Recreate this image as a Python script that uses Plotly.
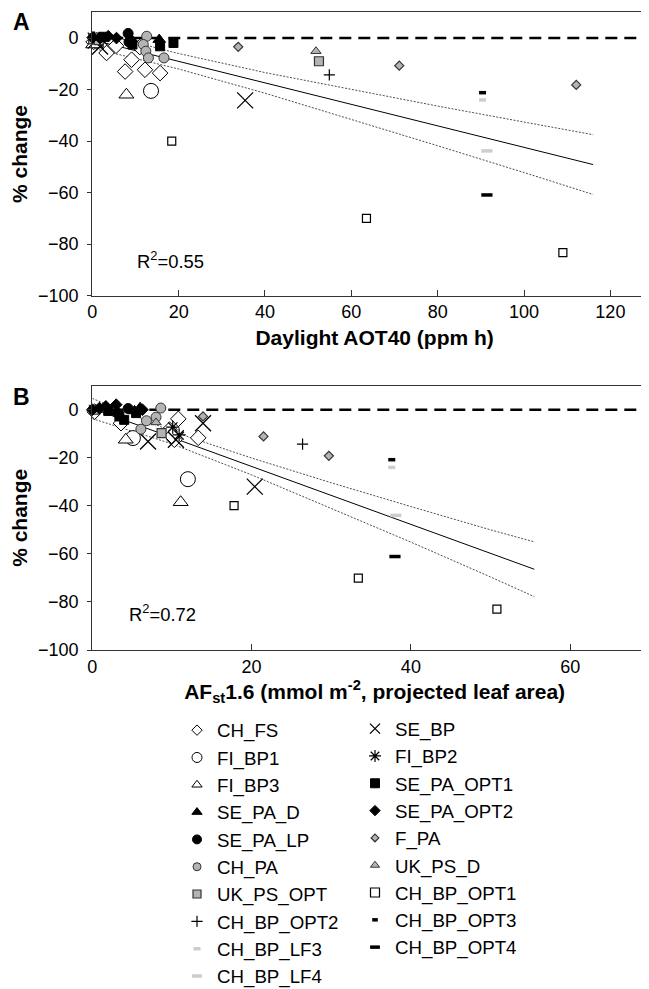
import plotly.graph_objects as go

# % change vs daylight AOT40 (panel A) and vs AFst1.6 (panel B), (x, y) pairs
a_ch_fs = [(0.3, -1.5), (3.3, -5.8), (5.5, -3.0), (7.6, -13.0), (9.1, -8.4), (12.2, -12.3), (15.7, -13.6), (11.0, -3.5)]
a_fi_bp1 = [(1.0, -1.0), (13.6, -20.5)]
a_fi_bp3 = [(0.2, -2.5), (7.9, -22.0)]
a_se_pa_d = [(9.0, -0.5), (15.5, -0.6)]
a_se_pa_lp = [(8.3, 1.8), (8.5, -1.5)]
a_ch_pa = [(12.6, 0.7), (11.8, -2.5), (12.4, -5.1), (13.0, -7.7), (16.6, -7.7)]
a_uk_ps_opt = [(0.2, -0.5), (1.5, -0.8), (52.5, -9.0)]
a_ch_bp_opt2 = [(54.9, -14.3)]
a_ch_bp_lf3 = [(90.4, -24.0)]
a_ch_bp_lf4 = [(91.4, -43.8)]
a_se_bp = [(0.8, -1.0), (1.8, -3.3), (35.4, -24.2)]
a_fi_bp2 = [(0.5, 0.0), (2.5, -1.0)]
a_se_pa_opt1 = [(2.5, 0.5), (9.3, -2.5), (15.7, -3.2), (18.8, -1.9)]
a_se_pa_opt2 = [(0.1, 0.2), (1.8, 0.0), (3.7, 0.7), (5.6, 0.0)]
a_f_pa = [(33.8, -3.4), (71.1, -10.7), (112.1, -18.2)]
a_uk_ps_d = [(0.6, 0.2), (51.8, -5.1)]
a_ch_bp_opt1 = [(18.4, -40.0), (63.5, -70.0), (109.0, -83.3)]
a_ch_bp_opt3 = [(90.4, -21.2)]
a_ch_bp_opt4 = [(91.4, -60.9)]

b_ch_fs = [(0.3, -0.8), (3.6, -5.6), (10.8, -3.8), (9.7, -8.3), (10.3, -12.5), (13.3, -11.7), (10.0, -11.0)]
b_fi_bp1 = [(5.1, -11.8), (12.0, -28.9)]
b_fi_bp3 = [(4.2, -12.5), (11.1, -38.5)]
b_se_pa_d = [(6.0, 0.8), (5.3, -0.5)]
b_se_pa_lp = [(4.5, 0.5), (3.2, -1.5)]
b_ch_pa = [(8.6, 0.7), (8.0, -3.1), (6.8, -4.6), (6.1, -8.1)]
b_uk_ps_opt = [(0.2, 0.0), (8.7, -9.7)]
b_ch_bp_opt2 = [(26.4, -14.3)]
b_ch_bp_lf3 = [(37.6, -24.0)]
b_ch_bp_lf4 = [(38.1, -44.0)]
b_se_bp = [(7.0, -13.2), (10.5, -12.5), (13.9, -5.6), (20.4, -32.0)]
b_fi_bp2 = [(10.1, -7.2), (10.9, -10.5)]
b_se_pa_opt1 = [(2.0, -0.5), (3.4, -2.8), (5.5, -1.4), (4.0, -4.2)]
b_se_pa_opt2 = [(0.0, 0.0), (0.9, 0.7), (1.7, 1.4), (3.0, 2.1), (6.3, 0.0)]
b_f_pa = [(13.9, -2.8), (21.5, -11.1), (29.7, -19.2)]
b_uk_ps_d = [(8.0, -5.3)]
b_ch_bp_opt1 = [(17.8, -39.9), (33.4, -70.1), (50.8, -83.0)]
b_ch_bp_opt3 = [(37.6, -20.8)]
b_ch_bp_opt4 = [(38.0, -61.1)]

# regression line and its confidence band
a_fit_x = [0, 20, 40, 60, 80, 100, 116]
a_fit_y = [-0.7, -9.0, -17.4, -25.7, -34.1, -42.4, -49.1]
a_fit_hi = [2.5, -6.0, -13.4, -19.9, -26.4, -32.6, -37.5]
a_fit_lo = [-3.9, -12.0, -21.4, -31.5, -41.8, -52.2, -60.7]

b_fit_x = [0, 10, 20, 30, 40, 50, 55.5]
b_fit_y = [0.5, -11.6, -23.6, -35.7, -47.7, -59.8, -66.4]
b_fit_hi = [4.7, -9.0, -20.1, -30.4, -40.3, -50.0, -55.0]
b_fit_lo = [-3.7, -14.2, -27.1, -41.0, -55.1, -69.6, -77.8]

GRAY = '#b4b4b4'
LGRAY = '#cdcdcd'
DARK = '#333333'

# name, panel A pts, panel B pts, symbol, size, legend size, fill, line colour, line width, legend column
series = [
    ('CH_FS', a_ch_fs, b_ch_fs, 'diamond', 12, 8, 'white', 'black', 1, 'legend'),
    ('FI_BP1', a_fi_bp1, b_fi_bp1, 'circle', 15, 10, 'white', 'black', 1, 'legend'),
    ('FI_BP3', a_fi_bp3, b_fi_bp3, 'triangle-up', 13, 9, 'white', 'black', 1, 'legend'),
    ('SE_BP', a_se_bp, b_se_bp, 'x-thin', 16, 10, 'black', 'black', 1.3, 'legend2'),
    ('FI_BP2', a_fi_bp2, b_fi_bp2, 'asterisk', 11, 10, 'black', 'black', 1.2, 'legend2'),
    ('CH_PA', a_ch_pa, b_ch_pa, 'circle', 10, 8, GRAY, DARK, 1, 'legend'),
    ('UK_PS_OPT', a_uk_ps_opt, b_uk_ps_opt, 'square', 9, 8, GRAY, DARK, 1.2, 'legend'),
    ('UK_PS_D', a_uk_ps_d, b_uk_ps_d, 'triangle-up', 9, 8, GRAY, DARK, 1, 'legend2'),
    ('F_PA', a_f_pa, b_f_pa, 'diamond', 7, 6, GRAY, DARK, 1.2, 'legend2'),
    ('SE_PA_OPT2', a_se_pa_opt2, b_se_pa_opt2, 'diamond', 9, 8, 'black', 'black', 1, 'legend2'),
    ('SE_PA_OPT1', a_se_pa_opt1, b_se_pa_opt1, 'square', 9, 9, 'black', 'black', 1, 'legend2'),
    ('SE_PA_D', a_se_pa_d, b_se_pa_d, 'triangle-up', 11, 9, 'black', 'black', 1, 'legend'),
    ('SE_PA_LP', a_se_pa_lp, b_se_pa_lp, 'circle', 10, 9, 'black', 'black', 1, 'legend'),
    ('CH_BP_OPT1', a_ch_bp_opt1, b_ch_bp_opt1, 'square', 8, 9, 'white', 'black', 1.2, 'legend2'),
    ('CH_BP_OPT2', a_ch_bp_opt2, b_ch_bp_opt2, 'cross-thin', 8, 8, 'black', 'black', 1.2, 'legend'),
    ('CH_BP_OPT3', a_ch_bp_opt3, b_ch_bp_opt3, 'line-ew', 5, 4, 'black', 'black', 3.5, 'legend2'),
    ('CH_BP_LF3', a_ch_bp_lf3, b_ch_bp_lf3, 'line-ew', 5, 5, LGRAY, LGRAY, 3.5, 'legend'),
    ('CH_BP_OPT4', a_ch_bp_opt4, b_ch_bp_opt4, 'line-ew', 8, 7, 'black', 'black', 3.5, 'legend2'),
    ('CH_BP_LF4', a_ch_bp_lf4, b_ch_bp_lf4, 'line-ew', 8, 7, LGRAY, LGRAY, 3.5, 'legend'),
]
left_order = ['CH_FS', 'FI_BP1', 'FI_BP3', 'SE_PA_D', 'SE_PA_LP', 'CH_PA', 'UK_PS_OPT',
              'CH_BP_OPT2', 'CH_BP_LF3', 'CH_BP_LF4']
right_order = ['SE_BP', 'FI_BP2', 'SE_PA_OPT1', 'SE_PA_OPT2', 'F_PA', 'UK_PS_D',
               'CH_BP_OPT1', 'CH_BP_OPT3', 'CH_BP_OPT4']

fig = go.Figure()

# fitted lines first so the markers sit on top
for fx, fy, lo, hi, xa, ya in [(a_fit_x, a_fit_y, a_fit_lo, a_fit_hi, 'x', 'y'),
                               (b_fit_x, b_fit_y, b_fit_lo, b_fit_hi, 'x2', 'y2')]:
    fig.add_trace(go.Scatter(x=fx, y=fy, mode='lines', line=dict(color='black', width=1),
                             xaxis=xa, yaxis=ya, showlegend=False, hoverinfo='skip'))
    for band in (lo, hi):
        fig.add_trace(go.Scatter(x=fx, y=band, mode='lines',
                                 line=dict(color='#222222', width=0.8, dash='2px,1.5px'),
                                 xaxis=xa, yaxis=ya, showlegend=False, hoverinfo='skip'))

for name, pa, pb, sym, size, lsize, fill, lc, lw, leg in series:
    marker = dict(symbol=sym, size=size, color=fill, line=dict(color=lc, width=lw))
    fig.add_trace(go.Scatter(x=[p[0] for p in pa], y=[p[1] for p in pa], mode='markers',
                             name=name, marker=marker, showlegend=False,
                             cliponaxis=False, xaxis='x', yaxis='y'))
    fig.add_trace(go.Scatter(x=[p[0] for p in pb], y=[p[1] for p in pb], mode='markers',
                             name=name, marker=marker, showlegend=False,
                             cliponaxis=False, xaxis='x2', yaxis='y2'))

# legend entries (no data, smaller symbols like the printed key)
for name, pa, pb, sym, size, lsize, fill, lc, lw, leg in series:
    rank = left_order.index(name) if leg == 'legend' else right_order.index(name)
    fig.add_trace(go.Scatter(x=[None], y=[None], mode='markers', name=name,
                             marker=dict(symbol=sym, size=lsize, color=fill, line=dict(color=lc, width=lw)),
                             legend=leg, legendrank=rank + 1, showlegend=True, xaxis='x', yaxis='y'))

# the page is drawn with an 8 px body margin, so pixel positions below are shifted by 8
H = 989.0
W = 649.0
font = 'Liberation Sans, Arial, sans-serif'
tickfont = dict(family=font, size=18, color='black')
titlefont = dict(family=font, size=21, color='black', weight='bold')

def xax(rng, title, anchor, standoff):
    return dict(domain=[84.3 / W, 1], range=rng, anchor=anchor, showgrid=False, zeroline=False,
                showline=True, linecolor='#333333', linewidth=1.3, mirror=True,
                ticks='inside', ticklen=6, tickcolor='#333333', tickwidth=1.2,
                dtick=20, tickfont=tickfont, title=dict(text=title, font=titlefont, standoff=standoff))

def yax(top, bottom, anchor):
    return dict(domain=[1 - bottom / H, 1 - top / H], range=[-100, 10], anchor=anchor,
                showgrid=False, zeroline=False, showline=True, linecolor='#333333', linewidth=1.3,
                ticks='outside', ticklen=4, tickcolor='#333333', tickwidth=1.2,
                tickvals=[-100, -80, -60, -40, -20, 0], tickfont=tickfont, ticklabelstandoff=5,
                title=dict(text='% change', font=titlefont, standoff=6))

legend_common = dict(font=dict(family=font, size=18.7, color='black'), itemsizing='trace',
                     orientation='v', xanchor='left', yanchor='top', bgcolor='rgba(0,0,0,0)',
                     traceorder='normal', tracegroupgap=0)

fig.update_layout(
    width=649, height=989,
    margin=dict(l=0, r=0, t=0, b=0),
    template='none',
    paper_bgcolor='white', plot_bgcolor='white',
    xaxis=xax([0, 130.8], 'Daylight AOT40 (ppm h)', 'y', 8),
    yaxis=yax(4.3, 287.7, 'x'),
    xaxis2=xax([0, 70.9], 'AF<sub>st</sub>1.6 (mmol m<sup>-2</sup>, projected leaf area)', 'y2', 6),
    yaxis2=yax(377.7, 642, 'x2'),
    legend=dict(x=169 / W, y=1 - 703.5 / H, **legend_common),
    legend2=dict(x=347 / W, y=1 - 702 / H, **legend_common),
    showlegend=True,
)

# zero reference line
for xr, yr in [('x', 'y'), ('x2', 'y2')]:
    fig.add_shape(type='line', xref=xr + ' domain', yref=yr, x0=0, x1=1, y0=0, y1=0,
                  line=dict(color='black', width=2.5, dash='12px,7px'), layer='below')

fig.add_annotation(text='R<sup>2</sup>=0.55', x=10, y=-86, xref='x', yref='y', xanchor='left',
                   showarrow=False, font=dict(family=font, size=18.4, color='black'))
fig.add_annotation(text='R<sup>2</sup>=0.72', x=4.4, y=-84.5, xref='x2', yref='y2', xanchor='left',
                   showarrow=False, font=dict(family=font, size=18.4, color='black'))
fig.add_annotation(text='A', x=3 / W, y=1 - 14 / H, xref='paper', yref='paper', xanchor='left',
                   yanchor='middle', showarrow=False,
                   font=dict(family=font, size=23, color='black', weight='bold'))
fig.add_annotation(text='B', x=3 / W, y=1 - 388.7 / H, xref='paper', yref='paper', xanchor='left',
                   yanchor='middle', showarrow=False,
                   font=dict(family=font, size=23, color='black', weight='bold'))

fig.write_html('out.html')
